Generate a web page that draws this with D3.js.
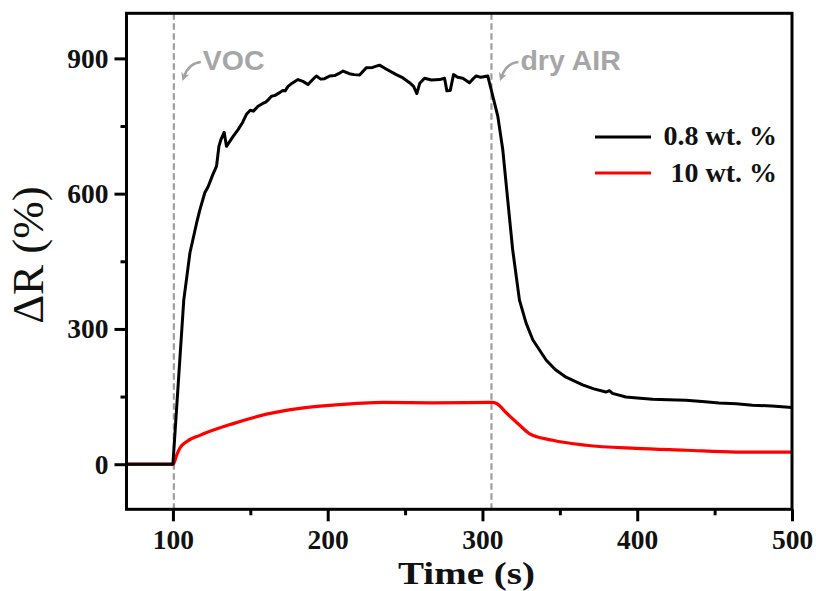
<!DOCTYPE html>
<html>
<head>
<meta charset="utf-8">
<script src="https://cdn.jsdelivr.net/npm/d3@7"></script>
<style>
  html, body { margin: 0; padding: 0; background: #fff; }
  svg { display: block; }
</style>
</head>
<body>
<svg id="chart" width="816" height="591"></svg>
<script>
// ---- data ----
const time08 = [70, 100, 107, 111, 115.3, 117.4, 120.6, 122.8, 125.5, 128.2, 129.7, 131, 133.1, 134.6, 138.9, 142.1, 145, 147.5, 150, 152, 155, 158, 160, 161.5, 163.7, 166, 169, 171, 172.5, 174.4, 177, 180.8, 184, 187.3, 190, 192.7, 195.5, 198, 201.3, 204.5, 207, 209.9, 214, 217, 220.6, 224.9, 229, 233.5, 238, 244.3, 248, 252.9, 255.5, 257.6, 259.5, 262.6, 267, 272.3, 275.5, 277, 279.2, 281.3, 284, 287.3, 291.6, 294, 296, 299, 303.4, 305.6, 309.9, 313.1, 316.3, 319.5, 323.9, 328.2, 332.5, 341.1, 347, 354, 364.7, 372, 379.8, 382, 384, 392.7, 400, 409.9, 420, 431.4, 442, 452.9, 464, 474.4, 487, 500];
const val08  = [0, 0, 364, 469, 535, 564, 602, 616, 640, 661, 705, 720, 736, 705, 727, 742, 758, 776, 785, 783, 794, 800, 803, 808, 816, 818, 824, 829, 828, 838, 845, 853, 849, 842, 852, 861, 854, 855, 861, 862, 866, 872, 866, 864, 863, 879, 880, 885, 876, 864, 858, 846, 838, 822, 845, 856, 852, 853, 856, 828, 829, 864, 858, 856, 846, 855, 861, 858, 861, 831, 772, 698, 587, 476, 364, 313, 276, 231, 210, 193, 176, 167, 160, 163, 157, 149, 147, 144, 143, 142, 139, 136, 134, 131, 129, 126];

const time10 = [70, 100.2, 102.4, 104.5, 108.8, 117.4, 138.9, 160.5, 182, 203.4, 235.7, 268, 306.6, 308.8, 316, 323.9, 330.3, 345.4, 366.9, 399.2, 431.4, 463.7, 500];
const val10  = [0, 0, 20, 36, 50, 64, 90, 111, 124, 131, 137, 136, 137, 135, 112, 87, 68, 53, 42, 35, 31, 27, 27];

const seriesNames = ["0.8 wt. %", "10 wt. %"];
const seriesColors = ["#000000", "#ff0000"];

const xMajorTicks = [100, 200, 300, 400, 500];
const xMinorTicks = [150, 250, 350, 450];
const yMajorTicks = [0, 300, 600, 900];
const yMinorTicks = [150, 450, 750];

const eventTimes = [100.6, 305.8];
const eventLabels = ["VOC", "dry AIR"];

// ---- layout ----
const L = 126.5, R = 792, T = 13.3, B = 509.3;
const svg = d3.select("#chart");

const x = d3.scaleLinear().domain([70, 500]).range([L, R]);
const y = d3.scaleLinear().domain([-100, 1000]).range([B, T]);

const serif = "'Liberation Serif', 'Times New Roman', serif";
const sans = "'Liberation Sans', Arial, sans-serif";

// event dashed lines
svg.append("g").selectAll("line").data(eventTimes).join("line")
  .attr("x1", d => x(d)).attr("x2", d => x(d))
  .attr("y1", T).attr("y2", B)
  .attr("stroke", "#9e9e9e").attr("stroke-width", 2.2)
  .attr("stroke-dasharray", "6.5,3.5");

// lines
const line = d3.line().x(d => x(d[0])).y(d => y(d[1]));
const lineSmooth = d3.line().x(d => x(d[0])).y(d => y(d[1])).curve(d3.curveMonotoneX);

svg.append("path")
  .datum(time10.map((t, i) => [t, val10[i]]))
  .attr("d", lineSmooth).attr("fill", "none")
  .attr("stroke", seriesColors[1]).attr("stroke-width", 3.2)
  .attr("stroke-linejoin", "round");

svg.append("path")
  .datum(time08.map((t, i) => [t, val08[i]]))
  .attr("d", line).attr("fill", "none")
  .attr("stroke", seriesColors[0]).attr("stroke-width", 3)
  .attr("stroke-linejoin", "round");

// axes
const axisStyle = g => {
  g.select(".domain").remove();
  g.selectAll(".tick line").attr("stroke", "#000").attr("stroke-width", 3);
  g.selectAll(".tick text").attr("fill", "#111").attr("font-family", serif)
    .attr("font-weight", "bold").attr("font-size", 27.5);
};

svg.append("g").attr("transform", `translate(0,${B})`)
  .call(d3.axisBottom(x).tickValues(xMajorTicks).tickSize(12).tickPadding(8).tickFormat(d3.format("d")))
  .call(axisStyle);
svg.append("g").attr("transform", `translate(0,${B})`)
  .call(d3.axisBottom(x).tickValues(xMinorTicks).tickSize(6).tickFormat(""))
  .call(axisStyle);

svg.append("g").attr("transform", `translate(${L},0)`)
  .call(d3.axisLeft(y).tickValues(yMajorTicks).tickSize(12).tickPadding(6).tickFormat(d3.format("d")))
  .call(axisStyle);
svg.append("g").attr("transform", `translate(${L},0)`)
  .call(d3.axisLeft(y).tickValues(yMinorTicks).tickSize(6).tickFormat(""))
  .call(axisStyle);

// frame
svg.append("rect").attr("x", L).attr("y", T).attr("width", R - L).attr("height", B - T)
  .attr("fill", "none").attr("stroke", "#000").attr("stroke-width", 3);

// axis titles
svg.append("text").attr("x", 466.5).attr("y", 584)
  .attr("text-anchor", "middle").attr("font-family", serif).attr("font-weight", "bold")
  .attr("font-size", 32).attr("textLength", 137).attr("lengthAdjust", "spacingAndGlyphs")
  .attr("fill", "#111").text("Time (s)");

svg.append("text").attr("transform", "translate(43,255) rotate(-90)")
  .attr("text-anchor", "middle").attr("font-family", serif)
  .attr("font-size", 45).attr("fill", "#111").text("ΔR (%)");

// annotations
const defs = svg.append("defs");
defs.append("marker").attr("id", "ah").attr("viewBox", "0 0 10 10")
  .attr("refX", 5).attr("refY", 5).attr("markerWidth", 3.2).attr("markerHeight", 3.2)
  .attr("orient", "auto-start-reverse")
  .append("path").attr("d", "M0,0 L10,5 L0,10 L3,5 Z").attr("fill", "#a3a3a3");

const ann = svg.append("g");
eventTimes.forEach((t, i) => {
  const x0 = x(t);
  ann.append("path")
    .attr("d", `M${x0 + 27},${62} Q${x0 + 15},${63} ${x0 + 10},${77}`)
    .attr("fill", "none").attr("stroke", "#a3a3a3").attr("stroke-width", 2.6)
    .attr("marker-end", "url(#ah)");
  ann.append("text").attr("x", x0 + 29).attr("y", 70)
    .attr("font-family", sans).attr("font-weight", "bold").attr("font-size", 28.5)
    .attr("fill", "#a6a6a6").text(eventLabels[i]);
});

// legend
const leg = svg.append("g");
const legY = [137, 173];
const legTextY = [145, 182];
seriesNames.forEach((n, i) => {
  leg.append("line").attr("x1", 595).attr("x2", 651)
    .attr("y1", legY[i]).attr("y2", legY[i])
    .attr("stroke", seriesColors[i]).attr("stroke-width", 3.2);
  leg.append("text").attr("x", 777).attr("y", legTextY[i])
    .attr("text-anchor", "end").attr("font-family", serif).attr("font-weight", "bold")
    .attr("font-size", 28).attr("fill", "#111").text(n);
});
</script>
</body>
</html>
